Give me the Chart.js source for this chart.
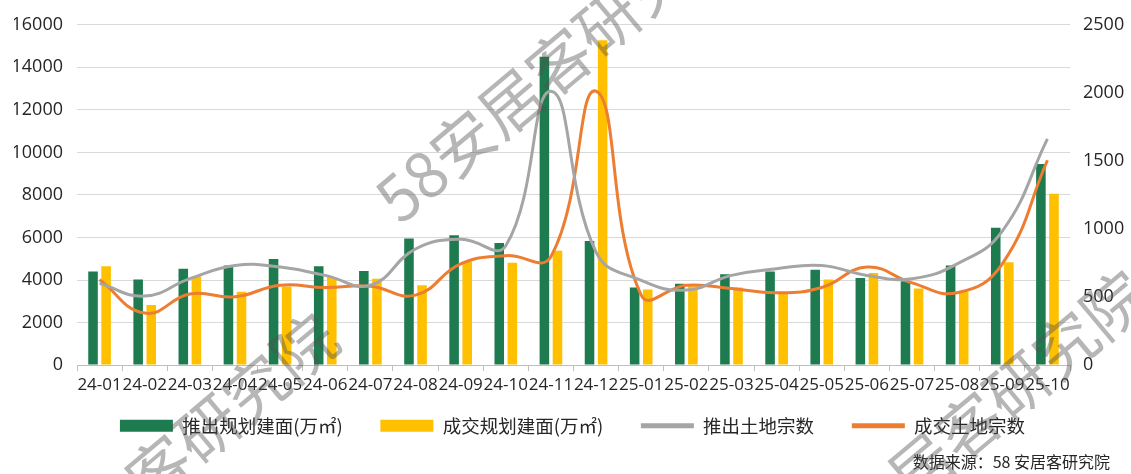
<!DOCTYPE html>
<html lang="zh-CN">

<head>
  <meta charset="UTF-8">
  <title>推出与成交规划建面及土地宗数</title>
  <script src="https://cdn.jsdelivr.net/npm/chart.js"></script>
  <style>
    html, body { margin: 0; padding: 0; background: #fff; }
    .chart-wrapper { position: relative; width: 1131px; height: 474px; }
  </style>
</head>

<body>
  <div class="chart-wrapper"><canvas id="landChart"></canvas></div>

  <script>
    // 月份
    const months = ['24-01', '24-02', '24-03', '24-04', '24-05', '24-06', '24-07', '24-08', '24-09', '24-10', '24-11',
      '24-12', '25-01', '25-02', '25-03', '25-04', '25-05', '25-06', '25-07', '25-08', '25-09', '25-10'];

    // 规划建面 (万㎡) - 左轴
    const launchArea = [4400, 4020, 4530, 4680, 4990, 4650, 4430, 5950, 6100, 5740, 14500,
      5840, 3650, 3830, 4270, 4400, 4480, 4100, 3940, 4680, 6460, 9450];
    const dealArea = [4650, 2830, 4170, 3450, 3700, 4140, 4060, 3760, 4870, 4810, 5380,
      15270, 3560, 3710, 3650, 3380, 4020, 4330, 3600, 3450, 4840, 8060];

    // 土地宗数 - 右轴
    const launchCount = [600, 507, 635, 732, 720, 659, 587, 853, 925, 877, 2012,
      830, 623, 551, 659, 708, 732, 659, 635, 744, 985, 1662];
    const dealCount = [628, 382, 522, 502, 587, 570, 580, 514, 744, 804, 797,
      2012, 514, 587, 563, 531, 570, 720, 604, 531, 744, 1505];

    const leftTicks = [0, 2000, 4000, 6000, 8000, 10000, 12000, 14000, 16000];
    const rightTicks = [0, 500, 1000, 1500, 2000, 2500];

    const GREEN = '#1E7B4F', YELLOW = '#FFC000', GRAY = '#A5A5A5', ORANGE = '#ED7D31';
    const sourceText = '数据来源：58 安居客研究院';
    const watermarkText = '58安居客研究院';

    // 页脚与水印
    const overlayPlugin = {
      id: 'overlay',
      afterDraw(chart) {
        const ctx = chart.ctx;
        ctx.save();
        ctx.fillStyle = '#262626';
        ctx.font = "16px 'Noto Sans CJK SC'";
        ctx.textAlign = 'right';
        ctx.textBaseline = 'middle';
        ctx.fillText(sourceText, 1110, 462);

        ctx.font = "63px 'Noto Sans CJK SC'";
        ctx.fillStyle = 'rgba(80,80,80,0.42)';
        ctx.textAlign = 'left';
        [[385, 208], [-15, 615], [795, 572]].forEach(([x, y]) => {
          ctx.save();
          ctx.translate(x, y);
          ctx.rotate(-40 * Math.PI / 180);
          ctx.fillText(watermarkText, 0, 0);
          ctx.restore();
        });
        ctx.restore();
      }
    };

    const tickFont = { family: "'Open Sans'", size: 18 };
    const plain = v => String(v);

    new Chart(document.getElementById('landChart'), {
      type: 'bar',
      data: {
        labels: months,
        datasets: [
          { label: '推出规划建面(万㎡)', data: launchArea, backgroundColor: GREEN, yAxisID: 'y', order: 1 },
          { label: '成交规划建面(万㎡)', data: dealArea, backgroundColor: YELLOW, yAxisID: 'y', order: 1 },
          {
            type: 'line', label: '推出土地宗数', data: launchCount, borderColor: GRAY, backgroundColor: GRAY,
            borderWidth: 3, pointRadius: 0, tension: 0.45, yAxisID: 'y1', order: 0
          },
          {
            type: 'line', label: '成交土地宗数', data: dealCount, borderColor: ORANGE, backgroundColor: ORANGE,
            borderWidth: 3, pointRadius: 0, tension: 0.45, yAxisID: 'y1', order: 0
          }
        ]
      },
      options: {
        responsive: true,
        maintainAspectRatio: false,
        animation: false,
        datasets: { bar: { categoryPercentage: 0.58, barPercentage: 0.73 } },
        layout: { padding: { top: 21, bottom: 29, left: 14, right: 0 } },
        plugins: {
          tooltip: { enabled: false },
          legend: {
            position: 'bottom',
            labels: {
              usePointStyle: true,
              pointStyleWidth: 53,
              boxHeight: 12,
              padding: 17,
              color: '#262626',
              font: { family: "'Noto Sans CJK SC'", size: 18.5 },
              generateLabels(chart) {
                const items = Chart.defaults.plugins.legend.labels.generateLabels(chart);
                items.sort((a, b) => a.datasetIndex - b.datasetIndex);
                items.forEach((it, i) => {
                  const ds = chart.data.datasets[it.datasetIndex];
                  // 加空格拉开图例间距
                  if (i < items.length - 1) it.text = it.text + '     ';
                  if (ds.type === 'line') {
                    it.pointStyle = 'line';
                    it.lineWidth = 5;
                    it.strokeStyle = ds.borderColor;
                  } else {
                    it.pointStyle = 'rect';
                    it.lineWidth = 0;
                  }
                });
                return items;
              }
            }
          }
        },
        scales: {
          x: {
            grid: { drawOnChartArea: false, drawTicks: true, tickLength: 6, color: '#BFBFBF', offset: true },
            border: { color: '#BFBFBF' },
            ticks: { autoSkip: false, maxRotation: 0, padding: 4, color: '#262626', font: { family: "'Open Sans'", size: 17 } }
          },
          y: {
            position: 'left',
            min: 0, max: 16000,
            afterBuildTicks(axis) { axis.ticks = leftTicks.map(v => ({ value: v })); },
            afterFit(axis) { axis.width = 63; },
            grid: { color: '#D9D9D9', drawTicks: false },
            border: { display: false },
            ticks: { padding: 14, color: '#262626', font: tickFont, callback: plain }
          },
          y1: {
            position: 'right',
            min: 0, max: 2500,
            afterBuildTicks(axis) { axis.ticks = rightTicks.map(v => ({ value: v })); },
            afterFit(axis) { axis.width = 61; },
            grid: { drawOnChartArea: false, drawTicks: false },
            border: { display: false },
            ticks: { padding: 13, color: '#262626', font: tickFont, callback: plain }
          }
        }
      },
      plugins: [overlayPlugin]
    });
  </script>
</body>

</html>
